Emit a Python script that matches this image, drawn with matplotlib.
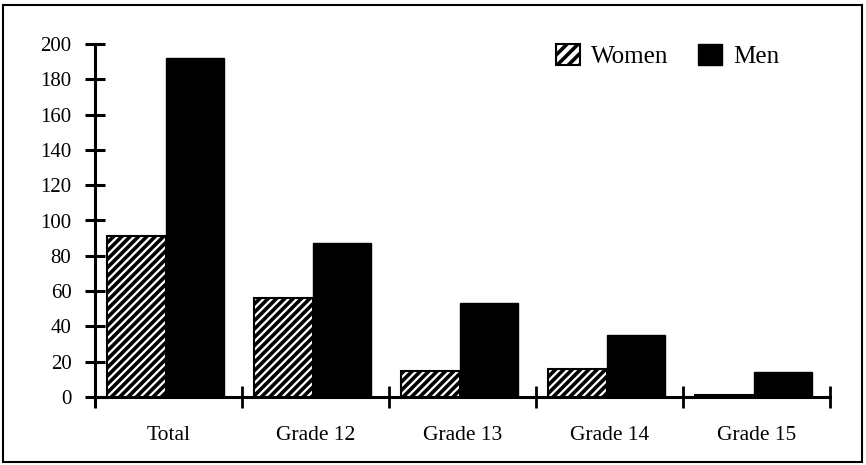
import matplotlib
matplotlib.use("Agg")
import matplotlib.pyplot as plt
from matplotlib.patches import Rectangle, Patch
import numpy as np

categories = ["Total", "Grade 12", "Grade 13", "Grade 14", "Grade 15"]
women = [91, 56, 15, 16, 1]
men = [192, 87, 53, 35, 14]
yticks = [0, 20, 40, 60, 80, 100, 120, 140, 160, 180, 200]

plt.rcParams['font.family'] = ['Liberation Serif', 'DejaVu Serif']
plt.rcParams['hatch.linewidth'] = 2.6

fig = plt.figure(figsize=(8.66, 4.65), dpi=100)
ax = fig.add_axes([95/866, 1-397/465, (830-95)/866, (397-44)/465])

x = np.arange(len(categories))
w = 0.40
ax.bar(x + 0.08, women, width=w, align='edge', facecolor='white', edgecolor='black',
       hatch='////', linewidth=1.5, label='Women')
ax.bar(x + 0.08 + w, men, width=w, align='edge', facecolor='black', edgecolor='black',
       linewidth=1.0, label='Men')

ax.set_xlim(0, len(categories))
ax.set_ylim(0, 200)
ax.set_yticks(yticks)
ax.set_yticklabels([str(v) for v in yticks])
ax.set_xticks(np.arange(1, len(categories) + 1))
ax.set_xticklabels([])
ax.set_xticks(x + 0.5, minor=True)
ax.set_xticklabels(categories, minor=True)
ax.tick_params(axis='x', which='minor', length=0, pad=21, labelsize=15.5)
ax.tick_params(axis='x', which='major', direction='inout', length=16, width=2)
ax.tick_params(axis='y', direction='inout', length=14, width=2.2, pad=10, labelsize=15)

for s in ['top', 'right']:
    ax.spines[s].set_visible(False)
for s in ['left', 'bottom']:
    ax.spines[s].set_linewidth(2.2)
ax.spines['left'].set_bounds(0, 200)
ax.plot([0, 0], [-6, 0], color='black', lw=2.2, clip_on=False, solid_capstyle='butt')

handles = [Patch(facecolor='white', edgecolor='black', hatch='///', linewidth=1.5),
           Patch(facecolor='black', edgecolor='black')]
fig.legend(handles, ['Women', 'Men'], loc='center left',
           bbox_to_anchor=(556/866, 1-56/465), bbox_transform=fig.transFigure,
           ncol=2, frameon=False, fontsize=18, handlelength=0.95, handleheight=0.95,
           columnspacing=1.2, handletextpad=0.45, borderpad=0, borderaxespad=0)

fig.patches.append(Rectangle((3/866, 3/465), 859/866, 457/465, transform=fig.transFigure,
                             fill=False, edgecolor='black', linewidth=1.5))

fig.savefig("out.png", dpi=100)
